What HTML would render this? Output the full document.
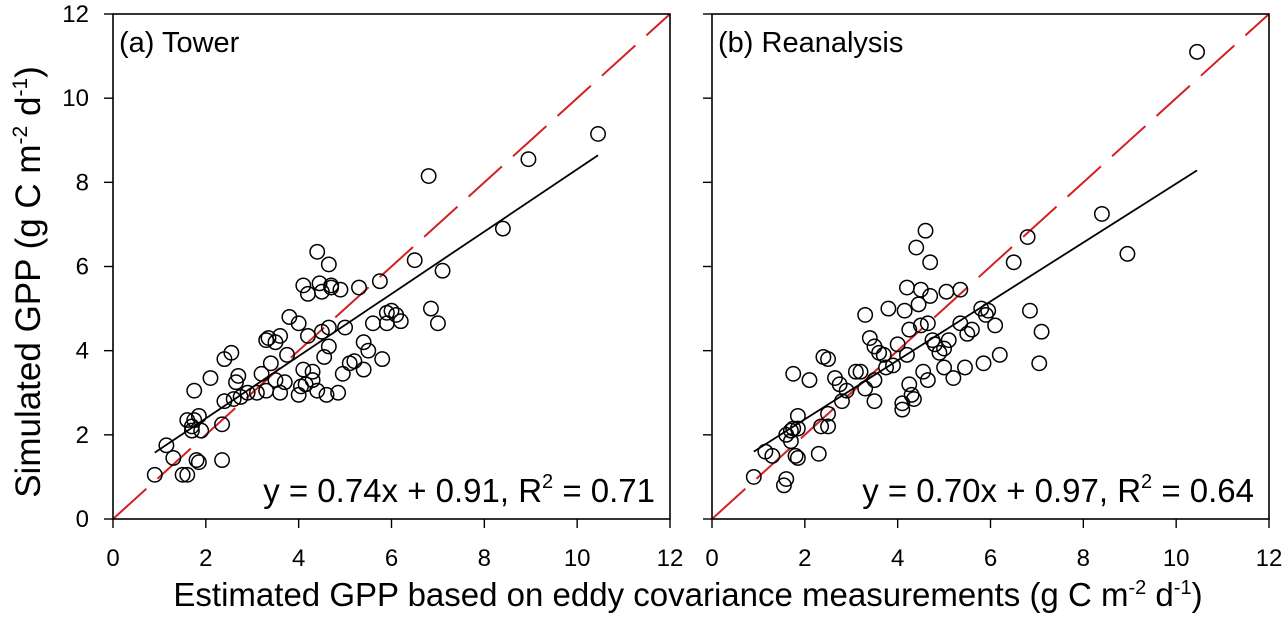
<!DOCTYPE html>
<html><head><meta charset="utf-8"><style>
body{margin:0;background:#fff;width:1286px;height:622px;overflow:hidden}
svg text{font-family:"Liberation Sans",Arial,sans-serif;fill:#000}
</style></head><body>
<svg id="chart" width="1286" height="622" xmlns="http://www.w3.org/2000/svg">
<g id="root"></g>
<text transform="translate(40,282) rotate(-90)" text-anchor="middle" font-size="35">Simulated GPP (g C m<tspan font-size="21" dy="-13">-2</tspan><tspan dy="13"> d</tspan><tspan font-size="21" dy="-13">-1</tspan><tspan dy="13">)</tspan></text>
<text x="688" y="606" text-anchor="middle" font-size="33">Estimated GPP based on eddy covariance measurements (g C m<tspan font-size="20" dy="-12">-2</tspan><tspan dy="12"> d</tspan><tspan font-size="20" dy="-12">-1</tspan><tspan dy="12">)</tspan></text>
</svg>
<script>
const ticks=[0,2,4,6,8,10,12];
const towerX=[0.9,1.15,1.3,1.5,1.6,1.6,1.7,1.7,1.75,1.8,1.75,1.85,1.85,1.9,2.1,2.35,2.35,2.4,2.4,2.55,2.6,2.65,2.7,2.75,2.9,3.1,3.2,3.3,3.3,3.35,3.4,3.5,3.5,3.6,3.6,3.7,3.75,3.8,4.0,4.0,4.05,4.1,4.1,4.15,4.2,4.2,4.3,4.3,4.4,4.4,4.45,4.5,4.5,4.55,4.6,4.65,4.65,4.65,4.7,4.7,4.85,4.9,4.95,5.0,5.1,5.2,5.3,5.4,5.4,5.5,5.6,5.75,5.8,5.9,5.9,6.0,6.1,6.2,6.5,6.8,6.85,7.0,7.1,8.4,8.95,10.45];
const towerY=[1.05,1.75,1.45,1.05,1.05,2.35,2.1,2.2,2.35,1.4,3.05,1.35,2.45,2.1,3.35,1.4,2.25,2.8,3.8,3.95,2.85,3.25,3.4,2.9,3.0,3.0,3.45,3.05,4.25,4.3,3.7,4.2,3.3,4.35,3.0,3.25,3.9,4.8,4.65,2.95,3.15,3.55,5.55,3.2,4.35,5.35,3.5,3.3,3.05,6.35,5.6,5.4,4.45,3.85,2.95,4.55,6.05,4.1,5.5,5.55,3.0,5.45,3.45,4.55,3.7,3.75,5.5,4.2,3.55,4.0,4.65,5.65,3.8,4.9,4.65,4.95,4.85,4.7,6.15,8.15,5.0,4.65,5.9,6.9,8.55,9.15];
const reanX=[0.9,1.15,1.3,1.55,1.6,1.6,1.7,1.7,1.75,1.75,1.8,1.85,1.85,1.85,2.1,2.3,2.35,2.4,2.5,2.5,2.5,2.65,2.75,2.8,2.9,3.1,3.2,3.3,3.3,3.4,3.5,3.5,3.5,3.6,3.7,3.75,3.8,3.9,4.0,4.1,4.1,4.15,4.2,4.2,4.25,4.25,4.3,4.35,4.4,4.45,4.5,4.5,4.55,4.6,4.65,4.65,4.7,4.7,4.75,4.8,4.9,5.0,5.05,5.1,5.0,5.2,5.35,5.35,5.45,5.5,5.6,5.8,5.85,5.9,5.95,6.1,6.2,6.5,6.8,6.85,7.05,7.1,8.4,8.95,10.45];
const reanY=[1.0,1.6,1.5,0.8,0.95,2.0,1.85,2.1,3.45,2.15,1.5,1.45,2.45,2.15,3.3,1.55,2.2,3.85,2.2,3.8,2.5,3.35,3.2,2.8,3.05,3.5,3.5,3.1,4.85,4.3,4.1,3.3,2.8,3.95,3.9,3.6,5.0,3.65,4.15,2.75,2.6,4.95,5.5,3.9,4.5,3.2,2.95,2.85,6.45,5.1,5.45,4.6,3.5,6.85,3.3,4.65,5.3,6.1,4.25,4.15,3.95,4.05,5.4,4.25,3.6,3.35,4.65,5.45,3.6,4.4,4.5,5.0,3.7,4.85,4.95,4.6,3.9,6.1,6.7,4.95,3.7,4.45,7.25,6.3,11.1];
const panels=[
 {name:'tower',label:'(a) Tower',x0:113,xs:towerX,ys:towerY,slope:0.74,icpt:0.91,eq:'y = 0.74x + 0.91, R',r2:'0.71',ylabels:true},
 {name:'reanalysis',label:'(b) Reanalysis',x0:712,xs:reanX,ys:reanY,slope:0.70,icpt:0.97,eq:'y = 0.70x + 0.97, R',r2:'0.64',ylabels:false}];
const NS='http://www.w3.org/2000/svg';
const root=document.getElementById('root');
function mk(tag,attrs,parent){const e=document.createElementNS(NS,tag);for(const k in attrs)e.setAttribute(k,attrs[k]);(parent||root).appendChild(e);return e;}
const W=557,T=14,B=519;
panels.forEach(p=>{
 const sx=v=>p.x0+v*W/12, sy=v=>B-v*(B-T)/12;
 const g=mk('g',{});
 
 
 ticks.forEach(t=>{
  const xt=mk('line',{x1:sx(t),x2:sx(t),y1:B,y2:B+9,stroke:'#000','stroke-width':1.4},g);
  
  
  const xl=mk('text',{x:sx(t),y:B+47,'text-anchor':'middle','font-size':24},g);xl.textContent=t;
  
  
  const yt=mk('line',{x1:p.x0-9,x2:p.x0,y1:sy(t),y2:sy(t),stroke:'#000','stroke-width':1.4},g);
  
  
  if(p.ylabels){const yl=mk('text',{x:p.x0-24,y:sy(t)+8,'text-anchor':'end','font-size':24},g);yl.textContent=t;
  
  }
 });
 const one=mk('line',{x1:sx(0),y1:sy(0),x2:sx(12),y2:sy(12),stroke:'#d62020','stroke-width':2,'stroke-dasharray':'45 15'},g);
 
 
 const xmin=Math.min(...p.xs),xmax=Math.max(...p.xs);
 const reg=mk('line',{x1:sx(xmin),y1:sy(p.slope*xmin+p.icpt),x2:sx(xmax),y2:sy(p.slope*xmax+p.icpt),stroke:'#000','stroke-width':1.8},g);
 
 
 p.xs.forEach((x,i)=>{
  const c=mk('circle',{cx:sx(x),cy:sy(p.ys[i]),r:7.2,fill:'none',stroke:'#000','stroke-width':1.5},g);
  
  
 });
 const fr=mk('rect',{x:p.x0,y:T,width:W,height:B-T,fill:'none',stroke:'#000','stroke-width':1.6},g);
 
 
 const lb=mk('text',{x:p.x0+6,y:T+38,'font-size':29},g);lb.textContent=p.label;
 
 
 const eq=mk('text',{x:p.x0+W-15,y:B-17,'text-anchor':'end','font-size':33},g);
 
 
 eq.innerHTML=p.eq+'<tspan font-size="20" dy="-14">2</tspan><tspan dy="14"> = '+p.r2+'</tspan>';
});
</script>
</body></html>
